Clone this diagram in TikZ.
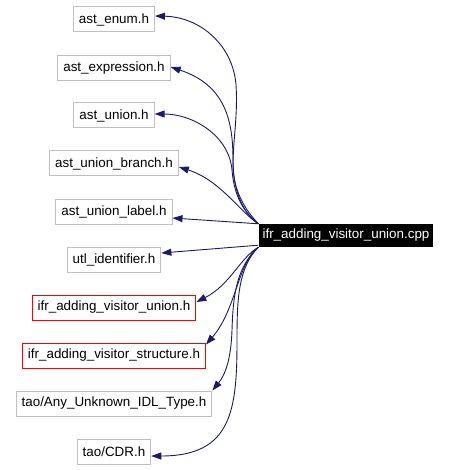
\documentclass[tikz,border=0pt]{standalone}
\usepackage{fontspec}
\setmainfont{Liberation Sans}
\usepackage{tikz}
\usetikzlibrary{arrows.meta}
\definecolor{edgeblue}{RGB}{25,25,112}
\definecolor{boxgray}{RGB}{191,191,191}
\tikzset{>={Triangle[length=10pt,width=7pt]}}

\begin{document}
\begin{tikzpicture}[x=1pt,y=-1pt,
    hdr/.style={draw=boxgray,line width=1pt,minimum height=25pt,inner xsep=5.5pt,font=\fontsize{13.4}{15}\selectfont},
    redhdr/.style={hdr,draw=red},
    src/.style={fill=black,text=white,minimum height=23pt,inner xsep=4pt,font=\fontsize{13.4}{15}\selectfont},
    dep/.style={->,draw=edgeblue,line width=0.9pt}]
    \useasboundingbox (0,0) rectangle (451,470);
    \foreach \n/\s/\y/\t in {enum/hdr/19.5/{ast\_enum.h},
        expr/hdr/68/{ast\_expression.h},
        union/hdr/115.5/{ast\_union.h},
        branch/hdr/163.5/{ast\_union\_branch.h},
        label/hdr/211.5/{ast\_union\_label.h},
        utl/hdr/260/{utl\_identifier.h},
        ifru/redhdr/307.5/{ifr\_adding\_visitor\_union.h},
        ifrs/redhdr/355.5/{ifr\_adding\_visitor\_structure.h},
        any/hdr/403.5/{tao/Any\_Unknown\_IDL\_Type.h},
        cdr/hdr/451.5/{tao/CDR.h}} {
      \node[\s] (\n) at (114,\y) {\t};
    }
    \node[src] (main) at (346,235.5) {ifr\_adding\_visitor\_union.cpp};

    \draw[dep] (main.north west) .. controls (245,210) and (233,190) .. (233,165)
      .. controls (233,140) and (238,115) .. (236,85)
      .. controls (233,45) and (200,17) .. ([yshift=3.5pt]enum.east);
    \draw[dep] (main.north west) .. controls (242,212) and (233,190) .. (233,160)
      .. controls (233,120) and (225,85) .. ([yshift=1pt]expr.east);
    \draw[dep] (main.north west) .. controls (243,212) and (234,195) .. (232,170)
      .. controls (229,135) and (192,114) .. ([yshift=1.5pt]union.east);
    \draw[dep] (main.north west) .. controls (240,212) and (220,180) .. ([yshift=-3.5pt]branch.east);
    \draw[dep] (main.north west) -- ([yshift=-6.5pt]label.east);
    \draw[dep] ([yshift=2pt]main.south west) -- ([yshift=7pt]utl.east);
    \draw[dep] (main.south west) .. controls (240,258) and (230,285) .. ([yshift=5.5pt]ifru.east);
    \draw[dep] (main.south west) .. controls (238,262) and (236,310) .. ([yshift=-2pt]ifrs.north east);
    \draw[dep] (main.south west) .. controls (235,268) and (233,300) .. (232,330)
      .. controls (231,360) and (225,375) .. (any.north east);
    \draw[dep] (main.south west) .. controls (238,268) and (237,300) .. (237,340)
      .. controls (237,410) and (232,456) .. ([yshift=-4.5pt]cdr.east);
\end{tikzpicture}
\end{document}
